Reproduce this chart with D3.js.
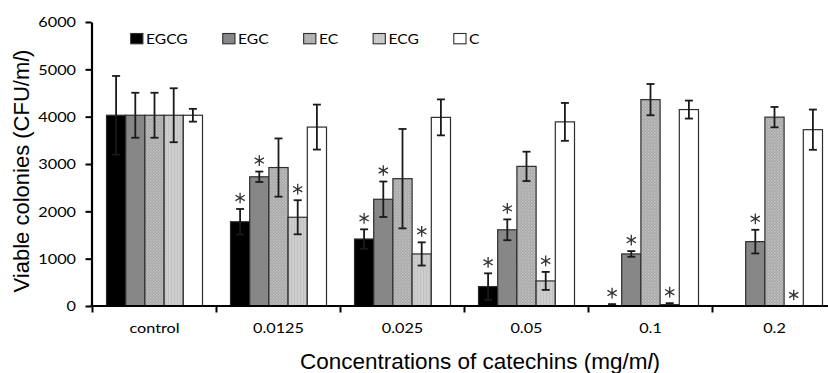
<!DOCTYPE html>
<html><head><meta charset="utf-8">
<script src="https://cdn.jsdelivr.net/npm/d3@7"></script>
<style>body{margin:0;background:#fff}svg{display:block}</style>
</head><body>
<svg id="c" width="828" height="373"></svg>
<script>
const categories = ["control","0.0125","0.025","0.05","0.1","0.2"];
const seriesNames = ["EGCG","EGC","EC","ECG","C"];
const EGCG = [4030, 1780, 1415, 410, 0, 0];
const EGC  = [4030, 2730, 2255, 1610, 1100, 1360];
const EC   = [4030, 2925, 2690, 2950, 4360, 3990];
const ECG  = [4030, 1875, 1100, 530, 30, 0];
const C    = [4030, 3780, 3985, 3890, 4150, 3725];
const errEGCG = [830, 270, 205, 280, 40, 0];
const errEGC  = [475, 110, 375, 220, 60, 250];
const errEC   = [475, 615, 1050, 310, 330, 215];
const errECG  = [570, 360, 245, 190, 30, 0];
const errC    = [135, 475, 380, 400, 190, 425];
const sigEGCG = [0,1,1,1,1,0];
const sigEGC  = [0,1,1,1,1,1];
const sigEC   = [0,0,0,0,0,0];
const sigECG  = [0,1,1,1,1,1];
const sigC    = [0,0,0,0,0,0];
const yTicks = [0,1000,2000,3000,4000,5000,6000];
const yLabel = "Viable colonies (CFU/m";
const xLabel = "Concentrations of catechins (mg/m";

const vals = [EGCG,EGC,EC,ECG,C];
const errs = [errEGCG,errEGC,errEC,errECG,errC];
const sigs = [sigEGCG,sigEGC,sigEC,sigECG,sigC];

const svg = d3.select("#c");
const defs = svg.append("defs");
// EC: dotted texture
const pEC = defs.append("pattern").attr("id","pEC").attr("width",3).attr("height",3).attr("patternUnits","userSpaceOnUse");
pEC.append("rect").attr("width",3).attr("height",3).attr("fill","#a6a6a6");
pEC.append("rect").attr("width",1.5).attr("height",1.5).attr("fill","#c4c4c4");
pEC.append("rect").attr("x",1.5).attr("y",1.5).attr("width",1.5).attr("height",1.5).attr("fill","#b8b8b8");
// ECG: faint vertical stripes
const pECG = defs.append("pattern").attr("id","pECG").attr("width",3).attr("height",3).attr("patternUnits","userSpaceOnUse");
pECG.append("rect").attr("width",3).attr("height",3).attr("fill","#cdcdcd");
pECG.append("rect").attr("width",1).attr("height",3).attr("fill","#c2c2c2");

const fills = ["#000000","#878787","url(#pEC)","url(#pECG)","#ffffff"];

const x0 = d3.scaleBand().domain(categories).range([92.5, 92.5+124*6]).paddingInner(0).paddingOuter(0);
const x1 = d3.scaleBand().domain(seriesNames).range([0, x0.bandwidth()]).paddingInner(0).paddingOuter(0.729);
const y = d3.scaleLinear().domain([0,6000]).range([306,22]);

// bars
seriesNames.forEach((s,si)=>{
  const g = svg.append("g");
  categories.forEach((c,ci)=>{
    const v = vals[si][ci];
    if (v > 0) {
      g.append("rect")
        .attr("x", x0(c)+x1(s)).attr("y", y(v))
        .attr("width", x1.bandwidth()).attr("height", y(0)-y(v))
        .attr("fill", fills[si]).attr("stroke","#2e2e2e").attr("stroke-width",1.2);
    }
  });
});
// error bars
seriesNames.forEach((s,si)=>{
  categories.forEach((c,ci)=>{
    const v = vals[si][ci], e = errs[si][ci];
    if (e <= 0) return;
    const cx = x0(c)+x1(s)+x1.bandwidth()/2;
    const t = y(v+e), b = y(Math.max(v-e,0));
    const g = svg.append("g").attr("stroke","#1a1a1a").attr("stroke-width",1.8);
    g.append("line").attr("x1",cx).attr("x2",cx).attr("y1",t).attr("y2",b);
    g.append("line").attr("x1",cx-4).attr("x2",cx+4).attr("y1",t).attr("y2",t);
    g.append("line").attr("x1",cx-4).attr("x2",cx+4).attr("y1",b).attr("y2",b);
  });
});
// asterisks (significance marks)
const star = d3.symbol().type(d3.symbolAsterisk).size(80);
seriesNames.forEach((s,si)=>{
  categories.forEach((c,ci)=>{
    if (!sigs[si][ci]) return;
    const v = vals[si][ci], e = errs[si][ci];
    const cx = x0(c)+x1(s)+x1.bandwidth()/2;
    const cy = y(v+e) - 11;
    svg.append("path").attr("d", star()).attr("transform",`translate(${cx},${cy})`)
      .attr("fill","none").attr("stroke","#333").attr("stroke-width",1.3);
  });
});

// y axis
const yAxis = svg.append("g").attr("transform","translate(91.5,0)")
  .call(d3.axisLeft(y).tickValues(yTicks).tickFormat(d3.format("d")).tickSize(6).tickSizeOuter(0));
yAxis.select(".domain").attr("stroke","#000").attr("stroke-width",2.2);
yAxis.selectAll(".tick line").attr("stroke","#000").attr("stroke-width",2);
yAxis.selectAll(".tick text").attr("x",null).attr("dy","0.36em")
  .attr("transform","translate(-15.5,0) scale(1.25,1)")
  .attr("font-family","Lato").attr("font-size",13).attr("fill","#000");

// x axis
const xAxis = svg.append("g").attr("transform","translate(0,306)")
  .call(d3.axisBottom(x0).tickSize(0).tickSizeOuter(0));
xAxis.select(".domain").remove();
xAxis.append("line").attr("x1",90.5).attr("x2",828).attr("y1",0).attr("y2",0).attr("stroke","#000").attr("stroke-width",2.2);
categories.forEach(c=>{
  xAxis.append("line").attr("x1",x0(c)).attr("x2",x0(c)).attr("y1",0).attr("y2",6.5).attr("stroke","#000").attr("stroke-width",2);
});
xAxis.selectAll(".tick text").attr("y",null).attr("dy",null)
  .attr("transform","translate(0,27.3) scale(1.25,1)")
  .attr("font-family","Lato").attr("font-size",13).attr("fill","#000");

// legend
let lx = 130.7;
seriesNames.forEach((s,si)=>{
  svg.append("rect").attr("x",lx).attr("y",33.5).attr("width",12.2).attr("height",10.3)
    .attr("fill",fills[si]).attr("stroke","#2e2e2e").attr("stroke-width",1.1);
  const t = svg.append("text").attr("transform",`translate(${lx+15.3},44) scale(1.25,1)`)
    .attr("font-family","Lato").attr("font-size",12.5).attr("fill","#000").text(s);
  const w = t.node().getComputedTextLength()*1.25;
  lx = lx + 15.3 + w + 35;
});

// axis titles
const yl = svg.append("text").attr("transform","translate(28.5,171) rotate(-90)")
  .attr("text-anchor","middle").attr("font-family","Liberation Sans").attr("font-size",22).attr("fill","#000");
yl.append("tspan").text(yLabel);
yl.append("tspan").attr("font-style","italic").text("l");
yl.append("tspan").text(")");
const xl = svg.append("text").attr("x",480).attr("y",368.5)
  .attr("text-anchor","middle").attr("font-family","Liberation Sans").attr("font-size",22.5).attr("fill","#000");
xl.append("tspan").text(xLabel);
xl.append("tspan").attr("font-style","italic").text("l");
xl.append("tspan").text(")");
</script>
</body></html>
